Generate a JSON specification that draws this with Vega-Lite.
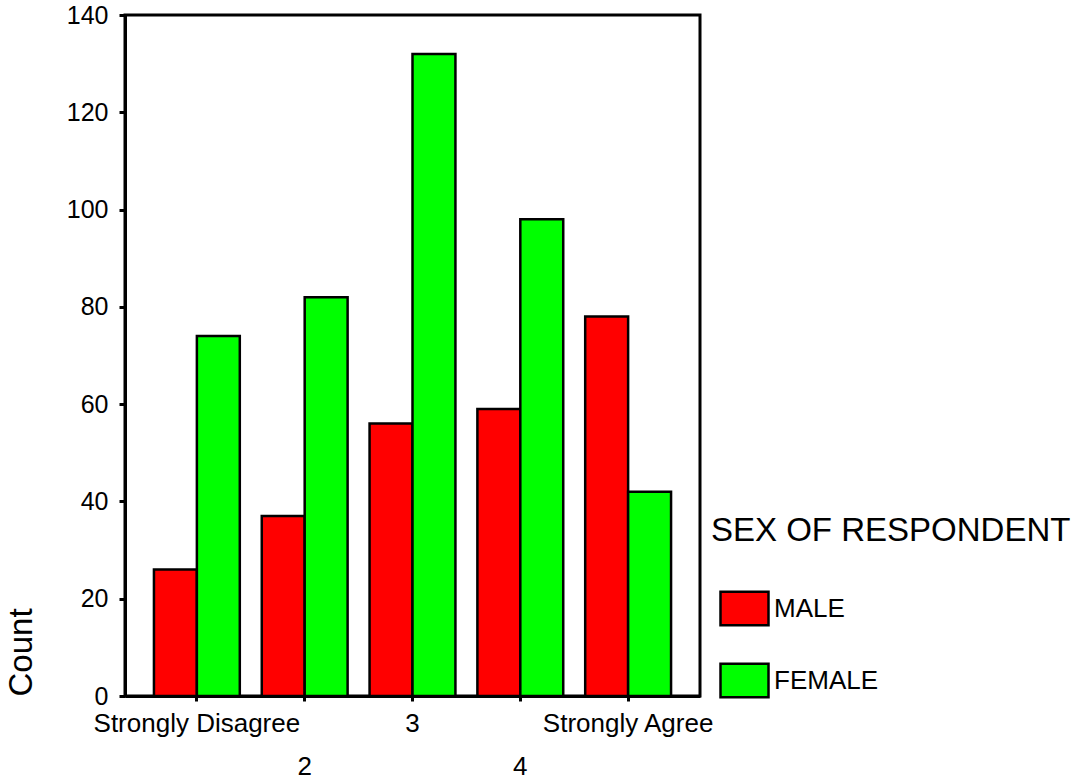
{
  "$schema": "https://vega.github.io/schema/vega-lite/v6.json",
  "width": 575,
  "height": 681,
  "autosize": {"type": "none"},
  "padding": {"left": 125, "top": 15, "right": 383, "bottom": 83},
  "background": "white",
  "config": {
    "font": "Liberation Sans",
    "view": {"stroke": "black", "strokeWidth": 3}
  },
  "data": {
    "values": [
      {"response": "Strongly Disagree", "sex": "MALE", "count": 26},
      {"response": "Strongly Disagree", "sex": "FEMALE", "count": 74},
      {"response": "2", "sex": "MALE", "count": 37},
      {"response": "2", "sex": "FEMALE", "count": 82},
      {"response": "3", "sex": "MALE", "count": 56},
      {"response": "3", "sex": "FEMALE", "count": 132},
      {"response": "4", "sex": "MALE", "count": 59},
      {"response": "4", "sex": "FEMALE", "count": 98},
      {"response": "Strongly Agree", "sex": "MALE", "count": 78},
      {"response": "Strongly Agree", "sex": "FEMALE", "count": 42}
    ]
  },
  "mark": {"type": "bar", "stroke": "black", "strokeWidth": 2.5},
  "encoding": {
    "x": {
      "field": "response",
      "type": "nominal",
      "sort": ["Strongly Disagree", "2", "3", "4", "Strongly Agree"],
      "scale": {"paddingInner": 0.2037, "paddingOuter": 0.2685},
      "axis": {
        "title": null,
        "labelAngle": 0,
        "labelFontSize": 26,
        "labelColor": "black",
        "labelBaseline": "top",
        "labelExpr": "datum.label == '2' || datum.label == '4' ? ['', datum.label] : datum.label",
        "labelLineHeight": 43,
        "labelOverlap": false,
        "labelLimit": 0,
        "labelBound": false,
        "labelFlush": false,
        "labelPadding": 9,
        "tickSize": 5,
        "tickWidth": 3,
        "tickColor": "black",
        "domainWidth": 3,
        "domainColor": "black"
      }
    },
    "xOffset": {
      "field": "sex",
      "type": "nominal",
      "sort": ["MALE", "FEMALE"],
      "scale": {"paddingInner": 0, "paddingOuter": 0}
    },
    "y": {
      "field": "count",
      "type": "quantitative",
      "scale": {"domain": [0, 140], "nice": false},
      "axis": {
        "values": [0, 20, 40, 60, 80, 100, 120, 140],
        "grid": false,
        "title": "Count",
        "titleFontSize": 33,
        "titleFontWeight": "normal",
        "titleColor": "black",
        "titleAnchor": "start",
        "titlePadding": 28,
        "labelFontSize": 25,
        "labelColor": "black",
        "labelPadding": 11,
        "tickSize": 6,
        "tickWidth": 3,
        "tickColor": "black",
        "domainWidth": 3,
        "domainColor": "black"
      }
    },
    "color": {
      "field": "sex",
      "type": "nominal",
      "sort": ["MALE", "FEMALE"],
      "scale": {"domain": ["MALE", "FEMALE"], "range": ["#ff0000", "#00ff00"]},
      "legend": {
        "orient": "none",
        "legendX": 586,
        "legendY": 500,
        "title": "SEX OF RESPONDENT",
        "titleFontSize": 33,
        "titleFontWeight": "normal",
        "titleColor": "black",
        "titleLimit": 0,
        "titlePadding": 35,
        "labelFontSize": 26,
        "labelColor": "black",
        "labelLimit": 0,
        "labelOffset": 4,
        "symbolType": "M-1,-0.7H1V0.7H-1Z",
        "symbolSize": 2304,
        "symbolStrokeColor": "black",
        "symbolStrokeWidth": 2.5,
        "symbolOpacity": 1,
        "symbolOffset": 8,
        "rowPadding": 24,
        "padding": 0
      }
    }
  }
}
